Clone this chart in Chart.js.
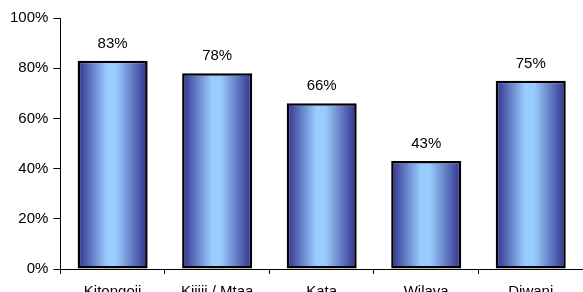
<!DOCTYPE html>
<html>
<head>
<meta charset="utf-8">
<script src="https://cdn.jsdelivr.net/npm/chart.js@4/dist/chart.umd.min.js"></script>
<style>
    html, body { margin: 0; padding: 0; background: #fff; overflow: hidden; }
    #wrap { width: 583px; height: 292px; overflow: hidden; }
</style>
</head>
<body>
<div id="wrap"><canvas id="levels_chart" width="583" height="310"></canvas></div>
<script>
var categories = ["Kitongoji", "Kijiji / Mtaa", "Kata", "Wilaya", "Diwani"];
var percentages = [83, 78, 66, 43, 75];
var yTicks = [0, 20, 40, 60, 80, 100];

var fontFamily = "'Liberation Sans', Arial, sans-serif";

//gradient fill for each bar, dark edges and light centre
var barGradient = {
    id: "barGradient",
    beforeDatasetsDraw: function(chart) {
        var ctx = chart.ctx;
        var meta = chart.getDatasetMeta(0);
        meta.data.forEach(function(bar) {
            var left = bar.x - bar.width / 2;
            var right = bar.x + bar.width / 2;
            var g = ctx.createLinearGradient(left, 0, right, 0);
            g.addColorStop(0, "#30308c");
            g.addColorStop(0.42, "#99ccff");
            g.addColorStop(0.55, "#99ccff");
            g.addColorStop(1, "#30308c");
            bar.options = Object.assign({}, bar.options, { backgroundColor: g });
        });
    }
};

//value labels above bars
var valueLabels = {
    id: "valueLabels",
    afterDatasetsDraw: function(chart) {
        var ctx = chart.ctx;
        ctx.save();
        ctx.font = "15px " + fontFamily;
        ctx.fillStyle = "#000";
        ctx.textAlign = "center";
        ctx.textBaseline = "alphabetic";
        chart.getDatasetMeta(0).data.forEach(function(bar, i) {
            ctx.fillText(percentages[i] + "%", bar.x, bar.y - 13);
        });
        ctx.restore();
    }
};

var canvas = document.getElementById("levels_chart");

var levels_chart = new Chart(canvas, {
    type: "bar",
    data: {
        labels: categories,
        datasets: [{
            data: percentages,
            backgroundColor: "#99ccff",
            borderColor: "#000",
            borderWidth: 2.5,
            borderSkipped: false,
            categoryPercentage: 1,
            barPercentage: 0.67,
        }, ],
    },
    options: {
        responsive: false,
        animation: false,
        events: [],
        layout: { padding: { top: 18, right: 0, left: 5, bottom: 0 } },
        plugins: {
            legend: { display: false },
            tooltip: { enabled: false },
        },
        scales: {
            x: {
                grid: { display: true, offset: true, drawOnChartArea: false, tickLength: 5, color: "#000" },
                border: { display: true, color: "#000", width: 1 },
                ticks: {
                    color: "#000",
                    padding: 9,
                    maxRotation: 0,
                    font: { family: fontFamily, size: 15 },
                },
            },
            y: {
                min: 0,
                max: 100,
                afterBuildTicks: function(axis) {
                    axis.ticks = yTicks.map(function(v) { return { value: v }; });
                },
                grid: { display: true, drawOnChartArea: false, tickLength: 7, color: "#000" },
                border: { display: true, color: "#000", width: 1 },
                ticks: {
                    color: "#000",
                    padding: 5,
                    font: { family: fontFamily, size: 15 },
                    callback: function(v) { return v + "%"; },
                },
            },
        },
    },
    plugins: [barGradient, valueLabels],
});
</script>
</body>
</html>
